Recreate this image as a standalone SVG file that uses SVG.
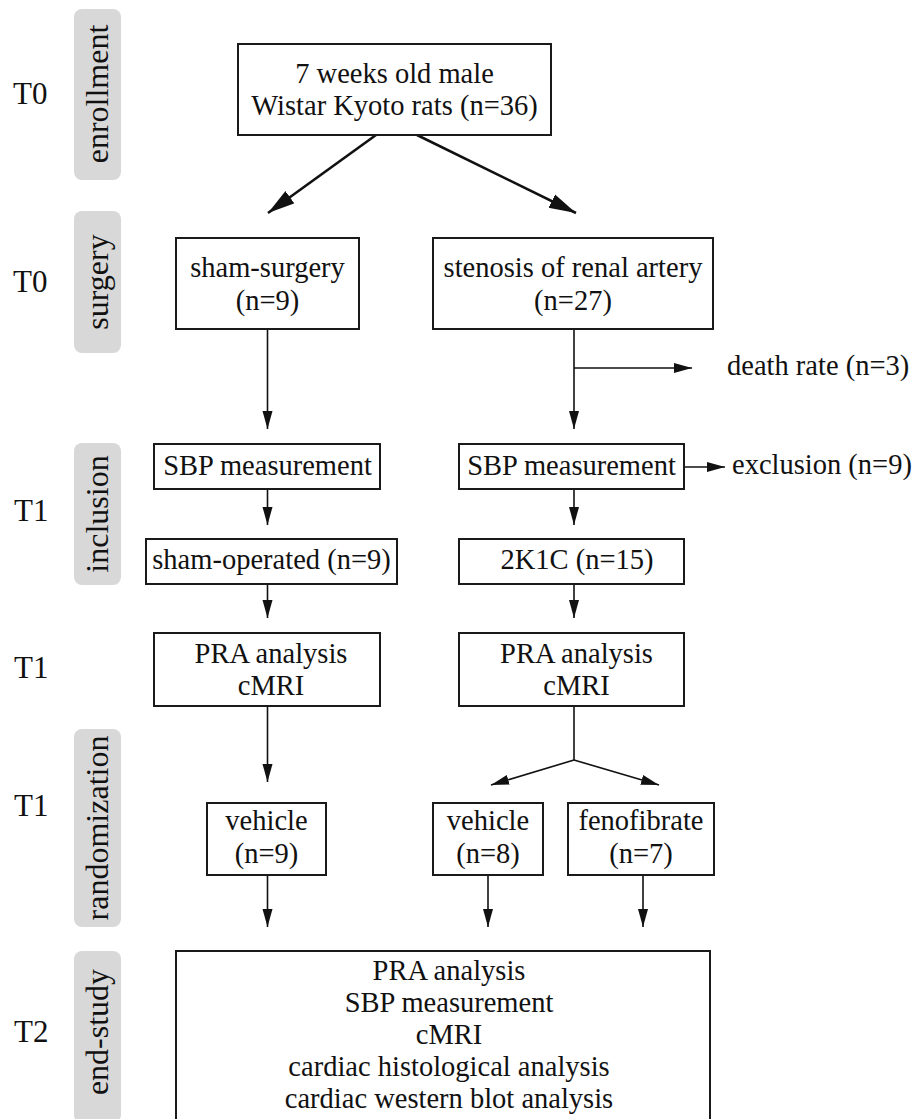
<svg xmlns="http://www.w3.org/2000/svg" width="912" height="1119" viewBox="0 0 912 1119">
<defs>
<style>
text{font-family:"Liberation Serif","Times New Roman",Times,"Nimbus Roman","DejaVu Serif",serif}
.node rect{fill:#fff;stroke:#1a1a1a;stroke-width:2}
.node text,.side text{fill:#111;text-anchor:middle}
.node text{font-size:28.5px}
.side .pill{fill:#d8d8d8}
.side .t{font-size:31px;text-anchor:start}
.side .v{font-size:32px}
.free{font-size:28.5px;fill:#111}
.conn line,.conn path{stroke:#111;stroke-width:1.6;fill:none;marker-end:url(#ah)}
.conn .big{stroke-width:2.6;marker-end:url(#ahb)}
</style>
<marker id="ah" markerUnits="userSpaceOnUse" markerWidth="19" markerHeight="11" refX="18" refY="5.5" orient="auto">
<path d="M0,0.5 L18,5.5 L0,10.5 z" fill="#111"/>
</marker>
<marker id="ahb" markerUnits="userSpaceOnUse" markerWidth="28" markerHeight="17" refX="27" refY="8.5" orient="auto">
<path d="M0,1 L27,8.5 L0,16 z" fill="#111"/>
</marker>
</defs>
<rect width="912" height="1119" fill="#fff"/>
<g id="side-labels" class="side">
<rect class="pill" x="74" y="9" width="47" height="171" rx="8"/>
<rect class="pill" x="74" y="211" width="47" height="142" rx="8"/>
<rect class="pill" x="74" y="443" width="47" height="142" rx="8"/>
<rect class="pill" x="74" y="729" width="47" height="198" rx="8"/>
<rect class="pill" x="74" y="951" width="47" height="172" rx="8"/>
<text class="v" transform="translate(108,94) rotate(-90)">enrollment</text>
<text class="v" transform="translate(108,282) rotate(-90)">surgery</text>
<text class="v" transform="translate(108,514) rotate(-90)">inclusion</text>
<text class="v" transform="translate(108,828) rotate(-90)">randomization</text>
<text class="v" transform="translate(108,1032) rotate(-90)">end-study</text>
<text class="t" x="13" y="104">T0</text>
<text class="t" x="13" y="292">T0</text>
<text class="t" x="14" y="521">T1</text>
<text class="t" x="14" y="678">T1</text>
<text class="t" x="14" y="816">T1</text>
<text class="t" x="14" y="1042">T2</text>
</g>

<g id="conn" class="conn">
<line class="big" x1="376" y1="135" x2="268" y2="213"/>
<line class="big" x1="417" y1="135" x2="576" y2="213"/>
<line x1="267.5" y1="329" x2="267.5" y2="429"/>
<line x1="574" y1="329" x2="574" y2="429"/>
<line x1="574" y1="368" x2="692" y2="368"/>
<line x1="684" y1="467" x2="725" y2="467"/>
<line x1="267.5" y1="489" x2="267.5" y2="525"/>
<line x1="574" y1="489" x2="574" y2="525"/>
<line x1="267.5" y1="584" x2="267.5" y2="618"/>
<line x1="574" y1="584" x2="574" y2="618"/>
<line x1="267.5" y1="706" x2="267.5" y2="782"/>
<path d="M574,706 V760" style="marker-end:none"/>
<line x1="574" y1="760" x2="491" y2="785"/>
<line x1="574" y1="760" x2="659" y2="785"/>
<line x1="267.5" y1="875" x2="267.5" y2="927"/>
<line x1="488" y1="875" x2="488" y2="927"/>
<line x1="643" y1="875" x2="643" y2="927"/>
</g>

<g id="n-enroll" class="node">
<rect x="238" y="44" width="313" height="91"/>
<text x="394.5" y="83">7 weeks old male</text>
<text x="394.5" y="115">Wistar Kyoto rats (n=36)</text>
</g>
<g id="n-sham" class="node">
<rect x="176" y="238" width="183" height="91"/>
<text x="267.5" y="277">sham-surgery</text>
<text x="267.5" y="310">(n=9)</text>
</g>
<g id="n-stenosis" class="node">
<rect x="433" y="238" width="280" height="91"/>
<text x="573" y="277">stenosis of renal artery</text>
<text x="573" y="310">(n=27)</text>
</g>
<g id="n-sbp-left" class="node">
<rect x="154" y="444" width="226" height="45"/>
<text x="267.5" y="475">SBP measurement</text>
</g>
<g id="n-sbp-right" class="node">
<rect x="459" y="444" width="225" height="45"/>
<text x="571.5" y="475">SBP measurement</text>
</g>
<g id="n-shamop" class="node">
<rect x="146" y="539" width="251" height="45"/>
<text x="271.5" y="569">sham-operated (n=9)</text>
</g>
<g id="n-2k1c" class="node">
<rect x="459" y="539" width="225" height="45"/>
<text x="577" y="569">2K1C (n=15)</text>
</g>
<g id="n-pra-left" class="node">
<rect x="154" y="633" width="226" height="73"/>
<text x="271" y="663">PRA analysis</text>
<text x="271" y="695">cMRI</text>
</g>
<g id="n-pra-right" class="node">
<rect x="459" y="633" width="225" height="73"/>
<text x="576.5" y="663">PRA analysis</text>
<text x="576.5" y="695">cMRI</text>
</g>
<g id="n-vehicle-left" class="node">
<rect x="207" y="803" width="119" height="72"/>
<text x="266.5" y="830">vehicle</text>
<text x="266.5" y="863">(n=9)</text>
</g>
<g id="n-vehicle-right" class="node">
<rect x="433" y="803" width="110" height="72"/>
<text x="488" y="830">vehicle</text>
<text x="488" y="863">(n=8)</text>
</g>
<g id="n-feno" class="node">
<rect x="568" y="803" width="146" height="72"/>
<text x="641" y="830">fenofibrate</text>
<text x="641" y="863">(n=7)</text>
</g>
<g id="n-end" class="node">
<rect x="176" y="951" width="534" height="175"/>
<text x="449" y="980">PRA analysis</text>
<text x="449" y="1012">SBP measurement</text>
<text x="449" y="1044">cMRI</text>
<text x="449" y="1076">cardiac histological analysis</text>
<text x="449" y="1108">cardiac western blot analysis</text>
</g>

<g id="n-death">
<text class="free" x="727" y="375">death rate (n=3)</text>
</g>
<g id="n-exclusion">
<text class="free" x="732" y="474">exclusion (n=9)</text>
</g>
</svg>
